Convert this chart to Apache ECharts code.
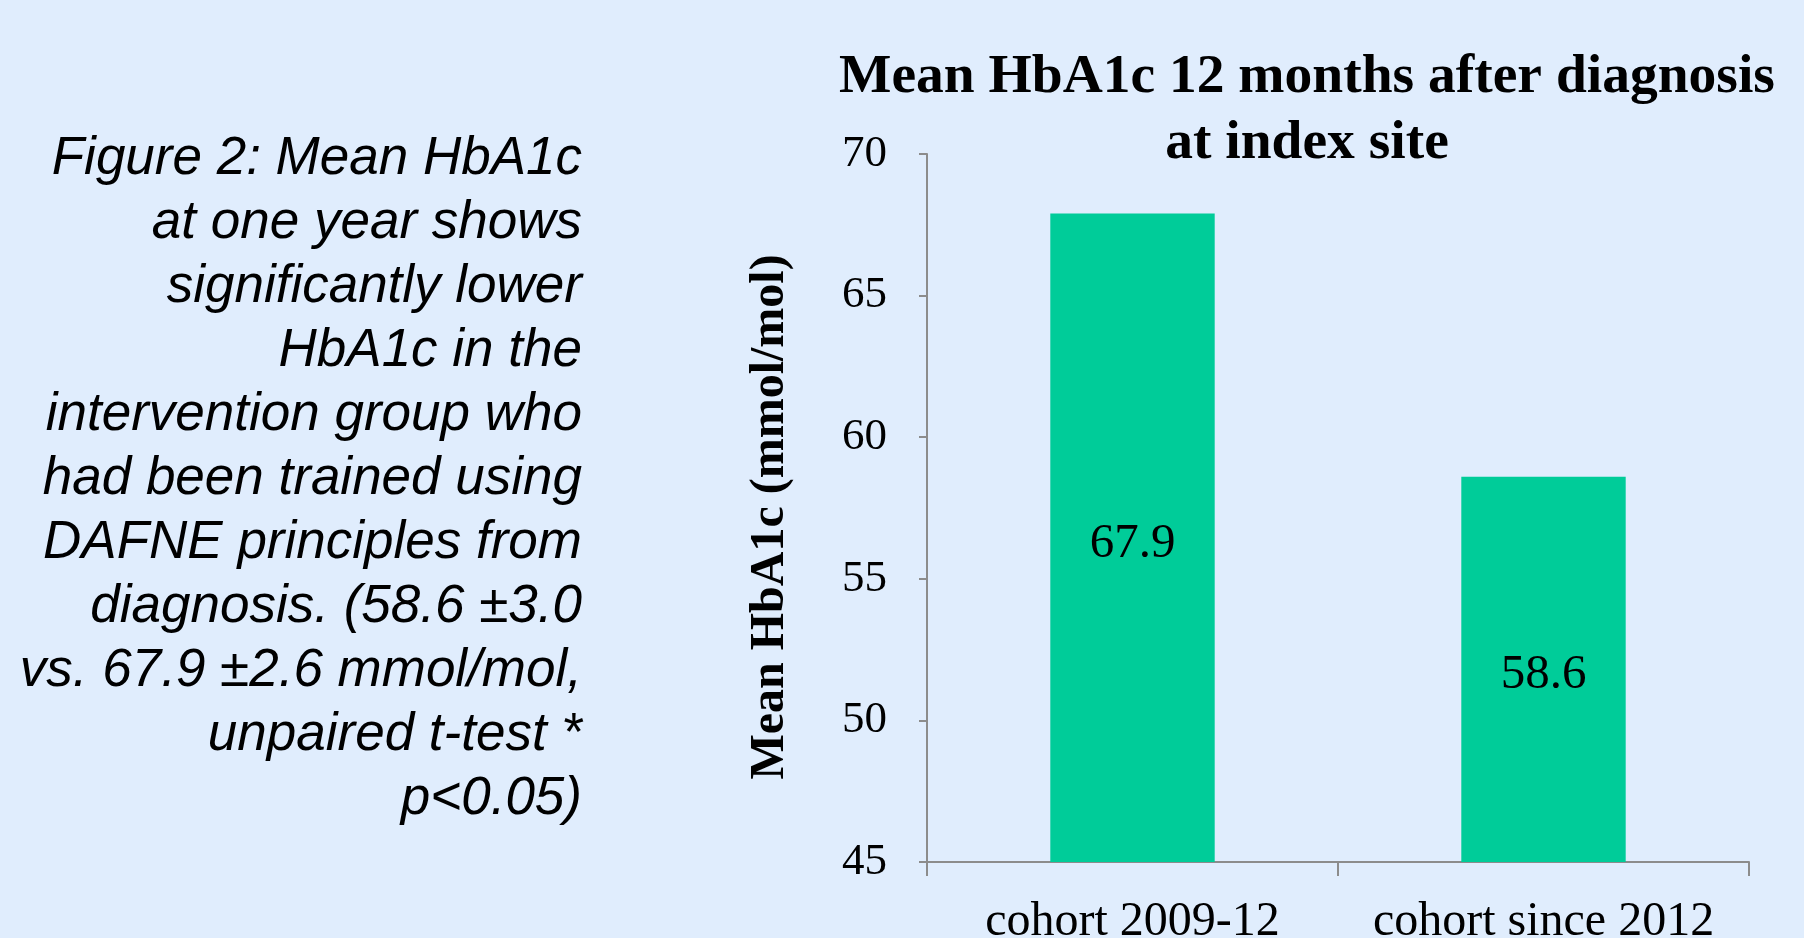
<!DOCTYPE html>
<html>
<head>
<meta charset="utf-8">
<script src="https://cdn.jsdelivr.net/npm/echarts@6/dist/echarts.min.js"></script>
<style>
html,body{margin:0;padding:0;background:#E0EDFD;}
#chart{width:1804px;height:938px;}
</style>
</head>
<body>
<div id="chart"></div>
<script>
const categories = ['cohort 2009-12', 'cohort since 2012'];
const values = [67.9, 58.6];
const yTicks = [45, 50, 55, 60, 65, 70];
const titleText = 'Mean HbA1c 12 months after diagnosis\nat index site';
const yAxisName = 'Mean HbA1c (mmol/mol)';
const captionLines = [
  'Figure 2: Mean HbA1c',
  'at one year shows',
  'significantly lower',
  'HbA1c in the',
  'intervention group who',
  'had been trained using',
  'DAFNE principles from',
  'diagnosis. (58.6 \u00b13.0',
  'vs. 67.9 \u00b12.6 mmol/mol,',
  'unpaired t-test *',
  'p<0.05)'
];

const serif = '"Liberation Serif", "DejaVu Serif", serif';
const chart = echarts.init(document.getElementById('chart'));
chart.setOption({
  backgroundColor: '#E0EDFD',
  animation: false,
  title: {
    text: titleText,
    left: 1302,
    top: 40,
    textAlign: 'center',
    textStyle: {
      fontFamily: serif,
      fontWeight: 'bold',
      fontSize: 55.5,
      lineHeight: 66,
      color: '#000'
    }
  },
  graphic: [{
    type: 'text',
    x: 582,
    y: 127,
    style: {
      text: captionLines.join('\n'),
      align: 'right',
      verticalAlign: 'top',
      font: 'italic 53px "Liberation Sans", Arial, sans-serif',
      lineHeight: 64,
      fill: '#000'
    }
  }],
  grid: { left: 927, right: 55, top: 154, bottom: 76, containLabel: false, outerBoundsMode: 'none' },
  xAxis: {
    type: 'category',
    data: categories,
    axisLine: { lineStyle: { color: '#8C8C8C', width: 2 } },
    axisTick: { show: true, interval: 0, length: 14, lineStyle: { color: '#8C8C8C', width: 2 } },
    axisLabel: {
      interval: 0,
      hideOverlap: false,
      fontFamily: serif,
      fontSize: 48,
      color: '#000',
      margin: 36
    }
  },
  yAxis: {
    type: 'value',
    min: yTicks[0],
    max: yTicks[yTicks.length - 1],
    interval: 5,
    name: yAxisName,
    nameLocation: 'middle',
    nameGap: 132,
    nameRotate: 90,
    nameTextStyle: {
      fontFamily: serif,
      fontWeight: 'bold',
      fontSize: 48,
      color: '#000',
      padding: [0, 18, 0, 0]
    },
    splitLine: { show: false },
    axisLine: { show: true, lineStyle: { color: '#8C8C8C', width: 2 } },
    axisTick: { show: true, inside: false, length: 8, lineStyle: { color: '#8C8C8C', width: 2 } },
    axisLabel: {
      fontFamily: serif,
      fontSize: 45,
      color: '#000',
      margin: 40
    }
  },
  series: [{
    type: 'bar',
    data: values,
    barWidth: '40%',
    itemStyle: { color: '#00CC99' },
    label: {
      show: true,
      position: 'inside',
      offset: [0, 6],
      fontFamily: serif,
      fontSize: 49,
      color: '#000',
      formatter: p => p.value.toFixed(1)
    }
  }]
});
</script>
</body>
</html>
